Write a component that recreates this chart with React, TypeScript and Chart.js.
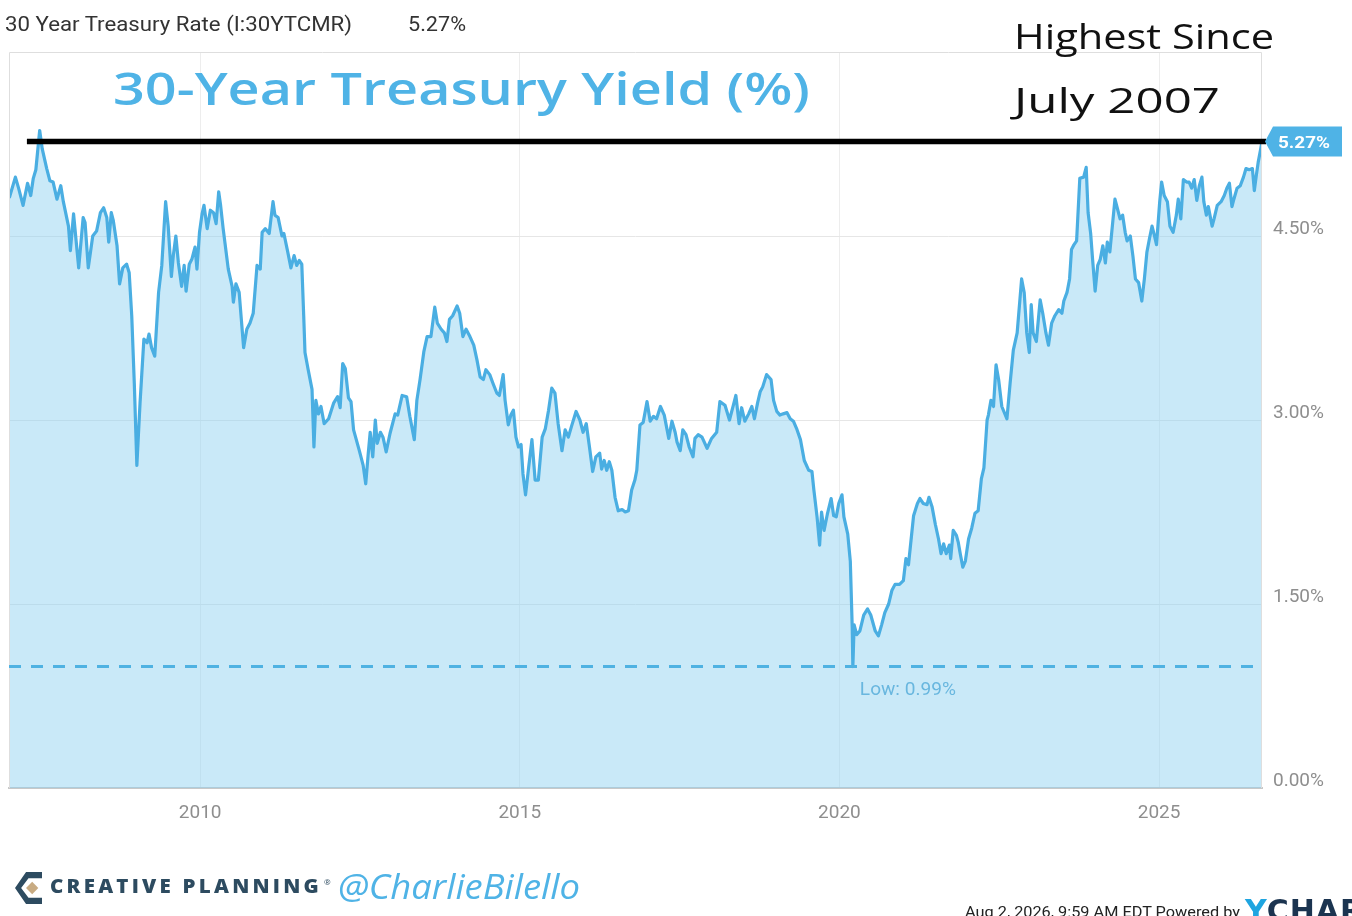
import React, { useEffect, useLayoutEffect, useRef } from "react";
import { Chart, registerables } from "chart.js";

Chart.register(...registerables);

// ---------- data ----------
const dates = [
  2007.02, 2007.11, 2007.16, 2007.23, 2007.30, 2007.35, 2007.39, 2007.43, 2007.49, 2007.53,
  2007.60, 2007.65, 2007.70, 2007.76, 2007.82, 2007.86, 2007.94, 2007.97, 2008.02, 2008.10,
  2008.17, 2008.20, 2008.25, 2008.32, 2008.38, 2008.44, 2008.49, 2008.54, 2008.57, 2008.61,
  2008.64, 2008.70, 2008.74, 2008.79, 2008.85, 2008.89, 2008.93, 2008.97, 2009.01, 2009.06,
  2009.12, 2009.17, 2009.20, 2009.24, 2009.29, 2009.35, 2009.40, 2009.46, 2009.50, 2009.55,
  2009.58, 2009.62, 2009.66, 2009.71, 2009.75, 2009.78, 2009.83, 2009.87, 2009.92, 2009.95,
  2009.99, 2010.03, 2010.06, 2010.11, 2010.16, 2010.21, 2010.25, 2010.29, 2010.32, 2010.36,
  2010.44, 2010.50, 2010.52, 2010.56, 2010.61, 2010.68, 2010.73, 2010.78, 2010.83, 2010.89,
  2010.94, 2010.97, 2011.02, 2011.08, 2011.14, 2011.17, 2011.22, 2011.28, 2011.31, 2011.37,
  2011.42, 2011.47, 2011.51, 2011.55, 2011.59, 2011.62, 2011.64, 2011.69, 2011.75, 2011.78,
  2011.81, 2011.85, 2011.89, 2011.94, 2012.01, 2012.09, 2012.15, 2012.19, 2012.23, 2012.27,
  2012.32, 2012.36, 2012.40, 2012.49, 2012.55, 2012.59, 2012.63, 2012.66, 2012.70, 2012.74,
  2012.77, 2012.82, 2012.86, 2012.91, 2012.97, 2013.05, 2013.09, 2013.16, 2013.23, 2013.28,
  2013.35, 2013.39, 2013.44, 2013.50, 2013.55, 2013.61, 2013.67, 2013.71, 2013.77, 2013.82,
  2013.86, 2013.90, 2013.95, 2014.02, 2014.06, 2014.11, 2014.16, 2014.22, 2014.28, 2014.33,
  2014.38, 2014.43, 2014.47, 2014.53, 2014.58, 2014.64, 2014.68, 2014.74, 2014.77, 2014.82,
  2014.86, 2014.90, 2014.94, 2014.98, 2015.02, 2015.05, 2015.09, 2015.14, 2015.19, 2015.24,
  2015.29, 2015.35, 2015.40, 2015.45, 2015.50, 2015.55, 2015.60, 2015.66, 2015.71, 2015.76,
  2015.81, 2015.88, 2015.94, 2015.99, 2016.04, 2016.09, 2016.14, 2016.19, 2016.25, 2016.28,
  2016.32, 2016.36, 2016.40, 2016.44, 2016.49, 2016.54, 2016.60, 2016.65, 2016.70, 2016.75,
  2016.80, 2016.83, 2016.88, 2016.93, 2016.99, 2017.04, 2017.09, 2017.14, 2017.20, 2017.26,
  2017.33, 2017.38, 2017.43, 2017.46, 2017.51, 2017.55, 2017.60, 2017.65, 2017.71, 2017.74,
  2017.79, 2017.85, 2017.93, 2018.00, 2018.08, 2018.13, 2018.21, 2018.28, 2018.34, 2018.38,
  2018.43, 2018.47, 2018.52, 2018.58, 2018.63, 2018.67, 2018.72, 2018.76, 2018.80, 2018.86,
  2018.93, 2018.97, 2019.02, 2019.07, 2019.12, 2019.18, 2019.23, 2019.28, 2019.33, 2019.39,
  2019.45, 2019.52, 2019.57, 2019.60, 2019.65, 2019.69, 2019.72, 2019.76, 2019.81, 2019.87,
  2019.91, 2019.95, 2019.99, 2020.04, 2020.07, 2020.13, 2020.17, 2020.20, 2020.21, 2020.23,
  2020.27, 2020.32, 2020.38, 2020.44, 2020.49, 2020.56, 2020.61, 2020.66, 2020.71, 2020.77,
  2020.82, 2020.87, 2020.94, 2021.00, 2021.04, 2021.08, 2021.12, 2021.16, 2021.22, 2021.26,
  2021.31, 2021.37, 2021.40, 2021.45, 2021.50, 2021.55, 2021.59, 2021.63, 2021.67, 2021.72,
  2021.74, 2021.78, 2021.83, 2021.86, 2021.89, 2021.93, 2021.97, 2022.02, 2022.07, 2022.12,
  2022.17, 2022.22, 2022.26, 2022.31, 2022.33, 2022.37, 2022.41, 2022.45, 2022.49, 2022.54,
  2022.62, 2022.67, 2022.72, 2022.78, 2022.82, 2022.85, 2022.89, 2022.93, 2022.97, 2023.00,
  2023.03, 2023.08, 2023.14, 2023.18, 2023.23, 2023.27, 2023.32, 2023.37, 2023.43, 2023.48,
  2023.51, 2023.56, 2023.60, 2023.63, 2023.67, 2023.71, 2023.76, 2023.82, 2023.86, 2023.89,
  2023.93, 2023.96, 2024.00, 2024.04, 2024.08, 2024.12, 2024.16, 2024.19, 2024.23, 2024.28,
  2024.31, 2024.35, 2024.39, 2024.43, 2024.47, 2024.50, 2024.55, 2024.59, 2024.63, 2024.68,
  2024.73, 2024.77, 2024.81, 2024.85, 2024.89, 2024.92, 2024.96, 2025.01, 2025.04, 2025.08,
  2025.13, 2025.17, 2025.22, 2025.27, 2025.30, 2025.34, 2025.38, 2025.43, 2025.47, 2025.51,
  2025.55, 2025.59, 2025.63, 2025.67, 2025.70, 2025.74, 2025.77, 2025.83, 2025.86, 2025.91,
  2025.97, 2026.02, 2026.06, 2026.10, 2026.14, 2026.17, 2026.22, 2026.27, 2026.32, 2026.36,
  2026.41, 2026.46, 2026.49, 2026.52, 2026.55, 2026.59, 2026.61,
];

const yields = [
  4.82, 4.98, 4.89, 4.75, 4.93, 4.83, 4.97, 5.04, 5.36, 5.21,
  5.05, 4.95, 4.94, 4.80, 4.91, 4.78, 4.58, 4.38, 4.68, 4.24,
  4.65, 4.61, 4.24, 4.50, 4.54, 4.69, 4.73, 4.65, 4.45, 4.69,
  4.63, 4.42, 4.11, 4.24, 4.27, 4.20, 3.85, 3.30, 2.63, 3.14,
  3.66, 3.63, 3.70, 3.59, 3.52, 4.04, 4.26, 4.78, 4.58, 4.17,
  4.34, 4.50, 4.28, 4.09, 4.26, 4.05, 4.27, 4.31, 4.41, 4.23,
  4.53, 4.68, 4.75, 4.56, 4.71, 4.69, 4.60, 4.86, 4.75, 4.56,
  4.23, 4.09, 3.96, 4.11, 4.04, 3.59, 3.74, 3.79, 3.87, 4.26,
  4.23, 4.53, 4.56, 4.52, 4.78, 4.67, 4.65, 4.50, 4.52, 4.37,
  4.24, 4.34, 4.26, 4.30, 4.27, 3.85, 3.55, 3.41, 3.25, 2.78,
  3.16, 3.05, 3.11, 2.97, 3.01, 3.14, 3.19, 3.10, 3.46, 3.42,
  3.18, 3.15, 2.92, 2.75, 2.63, 2.48, 2.73, 2.90, 2.70, 3.00,
  2.81, 2.90, 2.86, 2.74, 2.89, 3.05, 3.04, 3.20, 3.19, 3.03,
  2.84, 3.16, 3.33, 3.56, 3.68, 3.68, 3.92, 3.79, 3.74, 3.71,
  3.64, 3.82, 3.85, 3.93, 3.87, 3.68, 3.74, 3.68, 3.61, 3.49,
  3.35, 3.33, 3.41, 3.37, 3.30, 3.22, 3.20, 3.37, 3.16, 2.96,
  3.04, 3.08, 2.86, 2.78, 2.80, 2.56, 2.39, 2.62, 2.84, 2.51,
  2.51, 2.86, 2.93, 3.08, 3.26, 3.22, 2.97, 2.75, 2.92, 2.86,
  2.95, 3.07, 3.00, 2.90, 2.97, 2.78, 2.58, 2.70, 2.73, 2.60,
  2.67, 2.59, 2.66, 2.59, 2.37, 2.26, 2.27, 2.25, 2.26, 2.43,
  2.51, 2.59, 2.96, 2.98, 3.15, 2.99, 3.03, 3.01, 3.11, 3.04,
  2.85, 2.99, 2.90, 2.82, 2.75, 2.92, 2.88, 2.78, 2.70, 2.85,
  2.88, 2.86, 2.77, 2.85, 2.90, 3.15, 3.12, 3.00, 3.12, 3.20,
  2.97, 3.10, 2.99, 3.05, 3.11, 3.01, 3.14, 3.23, 3.27, 3.37,
  3.33, 3.16, 3.07, 3.04, 3.05, 3.06, 3.01, 2.99, 2.93, 2.84,
  2.67, 2.59, 2.58, 2.43, 2.21, 1.98, 2.25, 2.10, 2.23, 2.36,
  2.22, 2.21, 2.32, 2.39, 2.21, 2.07, 1.85, 1.31, 0.99, 1.33,
  1.25, 1.28, 1.41, 1.46, 1.41, 1.28, 1.24, 1.33, 1.43, 1.50,
  1.61, 1.66, 1.66, 1.69, 1.87, 1.82, 2.02, 2.22, 2.32, 2.36,
  2.32, 2.31, 2.37, 2.29, 2.15, 2.03, 1.91, 1.99, 1.91, 1.98,
  1.87, 2.10, 2.06, 2.00, 1.91, 1.80, 1.85, 2.03, 2.12, 2.24,
  2.26, 2.52, 2.61, 3.00, 3.04, 3.16, 3.11, 3.45, 3.33, 3.11,
  3.01, 3.30, 3.57, 3.71, 3.96, 4.15, 4.04, 3.71, 3.55, 3.94,
  3.71, 3.64, 3.98, 3.87, 3.71, 3.61, 3.79, 3.85, 3.90, 3.87,
  3.97, 4.04, 4.15, 4.39, 4.43, 4.46, 4.97, 4.98, 5.06, 4.69,
  4.52, 4.31, 4.05, 4.26, 4.31, 4.42, 4.28, 4.45, 4.37, 4.64,
  4.80, 4.72, 4.64, 4.67, 4.53, 4.46, 4.50, 4.34, 4.15, 4.12,
  3.97, 4.15, 4.37, 4.48, 4.58, 4.52, 4.43, 4.78, 4.94, 4.83,
  4.78, 4.58, 4.53, 4.67, 4.80, 4.64, 4.96, 4.94, 4.94, 4.89,
  4.96, 4.79, 4.91, 4.98, 4.78, 4.67, 4.74, 4.58, 4.64, 4.75,
  4.78, 4.83, 4.89, 4.93, 4.74, 4.80, 4.89, 4.91, 4.98, 5.05,
  5.04, 5.05, 4.87, 4.99, 5.10, 5.21, 5.27,
];

const yearTicks = [2010, 2015, 2020, 2025];
const yieldTicks = [0, 1.5, 3, 4.5];
const X_MIN = 2007.01;
const X_MAX = 2026.61;
const Y_MIN = 0;
const Y_MAX = 6;
const CURRENT = 5.27;
const LOW = 0.99;
const HIGH_LINE_START = 2007.29;

const SERIES_NAME = "30 Year Treasury Rate (I:30YTCMR)";
const TITLE = "30-Year Treasury Yield (%)";
const NOTE_1 = "Highest Since";
const NOTE_2 = "July 2007";

// ---------- styles ----------
const LINE_COLOR = "#4aaee2";
const FILL_COLOR = "rgba(140, 208, 240, 0.47)";
const TICK_COLOR = "#8e8e8e";
const BLUE_TEXT = "#4fb3e6";

function drawFitText(
  ctx: CanvasRenderingContext2D,
  text: string,
  left: number,
  baseline: number,
  width: number,
  font: string,
  color: string
) {
  ctx.save();
  ctx.font = font;
  ctx.fillStyle = color;
  ctx.textAlign = "left";
  ctx.textBaseline = "alphabetic";
  const m = ctx.measureText(text).width || 1;
  ctx.translate(left, baseline);
  ctx.scale(width / m, 1);
  ctx.fillText(text, 0, 0);
  ctx.restore();
}

const annotationPlugin = {
  id: "ycAnnotations",
  afterDatasetsDraw(chart: any) {
    const { ctx, chartArea } = chart;
    const xs = chart.scales.x;
    const ys = chart.scales.y;

    // plot frame
    ctx.save();
    ctx.strokeStyle = "#dedede";
    ctx.lineWidth = 1;
    ctx.beginPath();
    ctx.moveTo(chartArea.left + 0.5, chartArea.bottom);
    ctx.lineTo(chartArea.left + 0.5, chartArea.top + 0.5);
    ctx.lineTo(chartArea.right - 0.5, chartArea.top + 0.5);
    ctx.lineTo(chartArea.right - 0.5, chartArea.bottom);
    ctx.stroke();
    ctx.restore();

    // low dashed line
    const ly = ys.getPixelForValue(LOW);
    ctx.save();
    ctx.strokeStyle = "#4fb2e2";
    ctx.lineWidth = 3;
    ctx.setLineDash([12, 10]);
    ctx.beginPath();
    ctx.moveTo(chartArea.left, ly);
    ctx.lineTo(chartArea.right, ly);
    ctx.stroke();
    ctx.restore();

    // low label
    let minIdx = 0;
    for (let i = 1; i < yields.length; i++) if (yields[i] < yields[minIdx]) minIdx = i;
    const lowX = xs.getPixelForValue(dates[minIdx]);
    drawFitText(ctx, "Low: " + LOW.toFixed(2) + "%", lowX + 7, ly + 28, 96, "19px Roboto", "#69b7df");

    // black "highest since" line
    const hy = ys.getPixelForValue(CURRENT);
    ctx.save();
    ctx.strokeStyle = "#000000";
    ctx.lineWidth = 5.5;
    ctx.beginPath();
    ctx.moveTo(xs.getPixelForValue(HIGH_LINE_START), hy);
    ctx.lineTo(chartArea.right + 4, hy);
    ctx.stroke();
    ctx.restore();
  },
  afterDraw(chart: any) {
    const { ctx, chartArea } = chart;
    const ys = chart.scales.y;
    const hy = ys.getPixelForValue(CURRENT);
    const tip = chartArea.right + 3;
    const bx0 = chartArea.right + 11;
    const bx1 = chartArea.right + 80;
    const h = 30;
    ctx.save();
    ctx.fillStyle = "#4fb3e6";
    ctx.beginPath();
    ctx.moveTo(tip, hy);
    ctx.lineTo(bx0, hy - h / 2);
    ctx.lineTo(bx1, hy - h / 2);
    ctx.lineTo(bx1, hy + h / 2);
    ctx.lineTo(bx0, hy + h / 2);
    ctx.closePath();
    ctx.fill();
    ctx.restore();
    drawFitText(ctx, CURRENT.toFixed(2) + "%", bx0 + 5, hy + 6, 52, "bold 17px Roboto", "#ffffff");
  },
};

function FitText(props: {
  text: string;
  x: number;
  baseline: number;
  width?: number;
  style: React.CSSProperties;
}) {
  const outer = useRef<HTMLSpanElement>(null);
  const mark = useRef<HTMLSpanElement>(null);
  useLayoutEffect(() => {
    const el = outer.current;
    const mk = mark.current;
    if (!el || !mk) return;
    el.style.transform = "none";
    el.style.top = "0px";
    const r = el.getBoundingClientRect();
    const m = mk.getBoundingClientRect();
    el.style.top = props.baseline - (m.top - r.top) + "px";
    if (props.width && r.width > 0) el.style.transform = `scaleX(${props.width / r.width})`;
  });
  return (
    <span
      ref={outer}
      style={{
        position: "absolute",
        left: props.x,
        top: 0,
        whiteSpace: "nowrap",
        transformOrigin: "0 0",
        display: "inline-block",
        lineHeight: 1.2,
        ...props.style,
      }}
    >
      <span ref={mark} style={{ display: "inline-block", width: 0, height: 0 }} />
      {props.text}
    </span>
  );
}

export default function App() {
  const canvasRef = useRef<HTMLCanvasElement>(null);

  useEffect(() => {
    const canvas = canvasRef.current;
    if (!canvas) return;
    const n = Math.min(dates.length, yields.length);
    const points = [];
    for (let i = 0; i < n; i++) points.push({ x: dates[i], y: yields[i] });

    const chart = new Chart(canvas, {
      type: "line",
      data: {
        datasets: [
          {
            label: SERIES_NAME,
            data: points,
            borderColor: LINE_COLOR,
            borderWidth: 3.2,
            backgroundColor: FILL_COLOR,
            fill: "start",
            pointRadius: 0,
            tension: 0,
            borderJoinStyle: "round",
            borderCapStyle: "round",
          },
        ],
      },
      options: {
        animation: false,
        responsive: false,
        layout: { padding: { left: 9, top: 52, right: 0, bottom: 0 } },
        plugins: {
          legend: { display: false },
          tooltip: { enabled: false },
          title: { display: false },
        },
        scales: {
          x: {
            type: "linear",
            min: X_MIN,
            max: X_MAX,
            afterBuildTicks: (s: any) => {
              s.ticks = yearTicks.map((v) => ({ value: v }));
            },
            afterFit: (s: any) => {
              s.height = 128;
            },
            ticks: {
              autoSkip: false,
              maxRotation: 0,
              padding: 14,
              color: TICK_COLOR,
              font: { family: "Roboto", size: 19 },
              callback: (v: any) => String(v),
            },
            grid: { color: "rgba(0,0,0,0.07)", drawTicks: false, lineWidth: 1 },
            border: { display: true, color: "#c8c8c8", width: 2 },
          },
          y: {
            position: "right",
            min: Y_MIN,
            max: Y_MAX,
            afterBuildTicks: (s: any) => {
              s.ticks = yieldTicks.map((v) => ({ value: v }));
            },
            afterFit: (s: any) => {
              s.width = 90;
            },
            ticks: {
              padding: 11,
              labelOffset: -7,
              color: TICK_COLOR,
              font: { family: "Roboto", size: 19 },
              callback: (v: any) => Number(v).toFixed(2) + "%",
            },
            grid: { color: "#e6e6e6", drawTicks: false, lineWidth: 1 },
            border: { display: false },
          },
        },
      } as any,
      plugins: [annotationPlugin],
    });
    return () => chart.destroy();
  }, []);

  return (
    <div
      style={{
        position: "absolute",
        left: 0,
        top: 0,
        width: 1352,
        height: 916,
        overflow: "hidden",
        background: "#ffffff",
        fontFamily: "Roboto, sans-serif",
      }}
    >
      <canvas ref={canvasRef} width={1352} height={916} style={{ position: "absolute", left: 0, top: 0 }} />

      {/* header */}
      <FitText text={SERIES_NAME} x={5} baseline={30.5} width={347} style={{ fontFamily: "Roboto", fontSize: 20, color: "#333333" }} />
      <FitText text={CURRENT.toFixed(2) + "%"} x={408} baseline={30.5} width={58} style={{ fontFamily: "Roboto", fontSize: 20, color: "#333333" }} />

      {/* title & note */}
      <FitText text={TITLE} x={113} baseline={105} width={697} style={{ fontFamily: "'Open Sans'", fontSize: 46, fontWeight: 600, color: BLUE_TEXT }} />
      <FitText text={NOTE_1} x={1014} baseline={49} width={260} style={{ fontFamily: "'Open Sans'", fontSize: 34, fontWeight: 500, color: "#111111" }} />
      <FitText text={NOTE_2} x={1014} baseline={113} width={206} style={{ fontFamily: "'Open Sans'", fontSize: 34, fontWeight: 500, color: "#111111" }} />

      {/* footer logo */}
      <svg width={27} height={32} viewBox="0 0 22 26" style={{ position: "absolute", left: 15, top: 872 }}>
        <polygon points="9,0 22,0 22,5 11,5 5,13 11,21 22,21 22,26 9,26 0,13" fill="#2d4b60" />
        <polygon points="14,8 19,13 14,18 9,13" fill="#c8ab82" />
      </svg>
      <FitText text="CREATIVE PLANNING" x={50} baseline={893} width={272} style={{ fontFamily: "'Open Sans'", fontSize: 19, fontWeight: 800, letterSpacing: 3, color: "#2d4b60" }} />
      <FitText text="®" x={324} baseline={885} style={{ fontFamily: "'Open Sans'", fontSize: 8, color: "#2d4b60" }} />
      <FitText text="@CharlieBilello" x={338} baseline={899} width={242} style={{ fontFamily: "'Open Sans'", fontSize: 34, fontStyle: "italic", color: BLUE_TEXT }} />

      {/* bottom right credit */}
      <FitText text="Aug 2, 2026, 9:59 AM EDT Powered by" x={965} baseline={917} width={275} style={{ fontFamily: "Roboto", fontSize: 15, color: "#222222" }} />
      <span style={{ position: "absolute", left: 1245, top: 896, fontFamily: "'DejaVu Sans'", fontWeight: 700, fontSize: 30, lineHeight: 1, letterSpacing: 1, whiteSpace: "nowrap" }}>
        <span style={{ color: "#1fa5e0" }}>Y</span>
        <span style={{ color: "#1b3450" }}>CHARTS</span>
      </span>
    </div>
  );
}
